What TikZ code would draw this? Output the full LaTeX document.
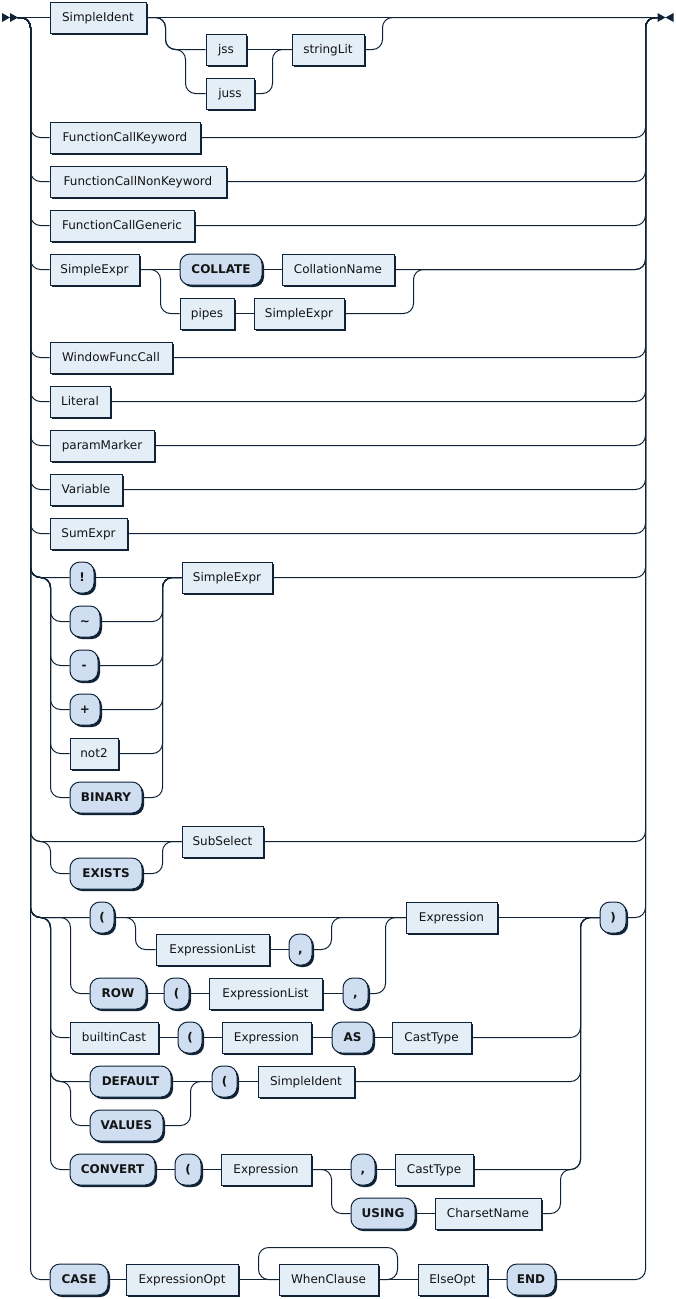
\documentclass[tikz,border=0pt]{standalone}
\usepackage{fontspec}
\setmainfont{DejaVu Sans}
\usetikzlibrary{shadows}
\definecolor{ink}{HTML}{0F2236}
\definecolor{ntfill}{HTML}{E4EEF7}
\definecolor{tmfill}{HTML}{CFDFF1}
\definecolor{shade}{HTML}{0F2236}
\definecolor{txt}{HTML}{141414}
\tikzset{
  rrbox/.style={draw=ink, line width=1pt, anchor=west, minimum height=31pt,
    inner sep=0pt, text=txt, text height=8.75pt, text depth=0pt,
    drop shadow={shadow xshift=2pt, shadow yshift=-2pt, opacity=1, fill=shade}},
  nt/.style={rrbox, rectangle, fill=ntfill, font=\fontsize{12pt}{14pt}\selectfont},
  tm/.style={rrbox, rectangle, rounded corners=10pt, fill=tmfill,
    font=\fontsize{12pt}{14pt}\selectfont\bfseries},
  rr/.style={draw=ink, line width=1pt, rounded corners=10pt},
}
\begin{document}
\begin{tikzpicture}[x=1pt,y=-1pt]
\fill[white] (0,0) rectangle (675,1299);
\useasboundingbox (0,0) rectangle (675,1299);
\begin{scope}[shift={(0.5,0.5)}]
% rails and end markers
\coordinate (entry) at (17,17);
\coordinate (exit) at (657,17);
\coordinate (railL) at (30,17);
\coordinate (railR) at (645,17);
\coordinate (inL) at (50,0);
\coordinate (inM) at (70,0);
\coordinate (mergeU) at (162,0);
\coordinate (mergeP) at (580,0);
\fill[ink] (1.5,12.5) -- (1.5,21.5) -- (9.5,17) -- cycle (9.5,12.5) -- (9.5,21.5) -- (17.5,17) -- cycle;
\fill[ink] (657,12.5) -- (657,21.5) -- (665,17) -- cycle (673,12.5) -- (673,21.5) -- (665,17) -- cycle;

% SimpleIdent [ (jss | juss) stringLit ]
\node[nt, minimum width=96pt] (si1) at (49,17) {SimpleIdent};
\node[nt, minimum width=40pt] (jss) at (205,49) {jss};
\node[nt, minimum width=48pt] (juss) at (205,93) {juss};
\node[nt, minimum width=72pt] (sl) at (291,49) {stringLit};
% single nonterminal rows
\node[nt, minimum width=150pt] (fck) at (49,137) {FunctionCallKeyword};
\node[nt, minimum width=176pt] (fcn) at (49,181) {FunctionCallNonKeyword};
\node[nt, minimum width=144pt] (fcg) at (49,225) {FunctionCallGeneric};
% SimpleExpr ( COLLATE CollationName | pipes SimpleExpr )
\node[nt, minimum width=89pt] (se1) at (49,269) {SimpleExpr};
\node[tm, minimum width=82pt] (col) at (179,269) {COLLATE};
\node[nt, minimum width=112pt] (cn) at (281,269) {CollationName};
\node[nt, minimum width=54pt] (pipes) at (179,313) {pipes};
\node[nt, minimum width=90pt] (se2) at (253,313) {SimpleExpr};
\node[nt, minimum width=122pt] (wfc) at (49,357) {WindowFuncCall};
\node[nt, minimum width=60pt] (lit) at (49,401) {Literal};
\node[nt, minimum width=104pt] (pm) at (49,445) {paramMarker};
\node[nt, minimum width=72pt] (var) at (49,489) {Variable};
\node[nt, minimum width=77pt] (sum) at (49,533) {SumExpr};
% unary operators
\node[tm, minimum width=24pt] (bang) at (69,577) {!};
\node[tm, minimum width=30pt] (tilde) at (69,621) {\textasciitilde};
\node[tm, minimum width=28pt] (minus) at (69,665) {-};
\node[tm, minimum width=30pt] (plus) at (69,709) {+};
\node[nt, minimum width=48pt] (not2) at (69,753) {not2};
\node[tm, minimum width=72pt] (binary) at (69,797) {BINARY};
\node[nt, minimum width=90pt] (se3) at (181,577) {SimpleExpr};
% [EXISTS] SubSelect
\node[nt, minimum width=81pt] (ss) at (181,841) {SubSelect};
\node[tm, minimum width=72pt] (exists) at (69,873) {EXISTS};
% parenthesised forms
\node[tm, minimum width=24pt] (lp1) at (89,917) {(};
\node[nt, minimum width=113pt] (el1) at (155,949) {ExpressionList};
\node[tm, minimum width=23pt] (cm1) at (288,949) {,};
\node[nt, minimum width=91pt] (expr1) at (405,917) {Expression};
\node[tm, minimum width=26pt] (rp) at (599,917) {)};
\node[tm, minimum width=56pt] (row) at (89,993) {ROW};
\node[tm, minimum width=25pt] (lp2) at (163,993) {(};
\node[nt, minimum width=113pt] (el2) at (208,993) {ExpressionList};
\node[tm, minimum width=25pt] (cm2) at (342,993) {,};
\node[nt, minimum width=88pt] (bc) at (69,1037) {builtinCast};
\node[tm, minimum width=24pt] (lp3) at (177,1037) {(};
\node[nt, minimum width=89pt] (expr2) at (221,1037) {Expression};
\node[tm, minimum width=41pt] (as) at (331,1037) {AS};
\node[nt, minimum width=79pt] (ct1) at (391,1037) {CastType};
\node[tm, minimum width=81pt] (default) at (89,1081) {DEFAULT};
\node[tm, minimum width=73pt] (values) at (89,1125) {VALUES};
\node[tm, minimum width=25pt] (lp4) at (211,1081) {(};
\node[nt, minimum width=96pt] (si2) at (257,1081) {SimpleIdent};
\node[tm, minimum width=85pt] (convert) at (69,1169) {CONVERT};
\node[tm, minimum width=26pt] (lp5) at (174,1169) {(};
\node[nt, minimum width=90pt] (expr3) at (220,1169) {Expression};
\node[tm, minimum width=24pt] (cm3) at (350,1169) {,};
\node[nt, minimum width=78pt] (ct2) at (394,1169) {CastType};
\node[tm, minimum width=64pt] (using) at (350,1213) {USING};
\node[nt, minimum width=106pt] (csn) at (434,1213) {CharsetName};
% CASE ... END
\node[tm, minimum width=58pt] (case) at (49,1279) {CASE};
\node[nt, minimum width=112pt] (eo) at (125,1279) {ExpressionOpt};
\node[nt, minimum width=99pt] (wc) at (278,1279) {WhenClause};
\node[nt, minimum width=69pt] (else) at (417,1279) {ElseOpt};
\node[tm, minimum width=48pt] (endk) at (506,1279) {END};

% ---- connectors ----
% entry and exit rails
\draw[rr] (entry) -- (si1.west);
\draw[rr] (si1.east) -- (exit);
\foreach \n in {fck,fcn,fcg,se1,wfc,lit,pm,var,sum,bang,ss,lp1,case}
  \draw[rr] (entry) -| (railL |- \n) -- (\n.west);
\foreach \n in {fck,fcn,fcg,cn,wfc,lit,pm,var,sum,se3,ss,rp,endk}
  \draw[rr] (\n.east) -| (railR) -- (exit);

% optional jss/juss stringLit
\draw[rr] (si1.east) -| (165,49) -- (jss.west);
\draw[rr] (si1.east) -| (165,49) -| (185,93) -- (juss.west);
\draw[rr] (jss.east) -- (sl.west);
\draw[rr] (juss.east) -| (272,49) -- (sl.west);
\draw[rr] (sl.east) -| (382,17) -- (exit);

% collate / pipes
\draw[rr] (se1.east) -- (col.west);
\draw[rr] (col.east) -- (cn.west);
\draw[rr] (se1.east) -| (160,313) -- (pipes.west);
\draw[rr] (pipes.east) -- (se2.west);
\draw[rr] (se2.east) -| (413,269) -| (railR) -- (exit);

% unary operators
\draw[rr] (bang.east) -- (se3.west);
\foreach \n in {tilde,minus,plus,not2,binary} {
  \draw[rr] (entry) -| (railL |- bang) -| (inL |- \n) -- (\n.west);
  \draw[rr] (\n.east) -| (mergeU |- bang) -- (se3.west);
}

% optional EXISTS
\draw[rr] (entry) -| (railL |- ss) -| (inL |- exists) -- (exists.west);
\draw[rr] (exists.east) -| (mergeU |- ss) -- (ss.west);

% ( [ExpressionList ,] | ROW ( ExpressionList , ) Expression
\draw[rr] (lp1.east) -- (expr1.west);
\draw[rr] (lp1.east) -| (135,949) -- (el1.west);
\draw[rr] (el1.east) -- (cm1.west);
\draw[rr] (cm1.east) -| (331,917) -- (expr1.west);
\draw[rr] (entry) -| (railL |- lp1) -| (inM |- row) -- (row.west);
\draw[rr] (row.east) -- (lp2.west);
\draw[rr] (lp2.east) -- (el2.west);
\draw[rr] (el2.east) -- (cm2.west);
\draw[rr] (cm2.east) -| (385,917) -- (expr1.west);
\draw[rr] (expr1.east) -- (rp.west);

% builtinCast ( Expression AS CastType
\draw[rr] (entry) -| (railL |- lp1) -| (inL |- bc) -- (bc.west);
\draw[rr] (bc.east) -- (lp3.west);
\draw[rr] (lp3.east) -- (expr2.west);
\draw[rr] (expr2.east) -- (as.west);
\draw[rr] (as.east) -- (ct1.west);
\draw[rr] (ct1.east) -| (mergeP |- rp) -- (rp.west);

% (DEFAULT | VALUES) ( SimpleIdent
\draw[rr] (entry) -| (railL |- lp1) -| (inL |- default) -- (default.west);
\draw[rr] (entry) -| (railL |- lp1) -| (inL |- default) -| (inM |- values) -- (values.west);
\draw[rr] (default.east) -- (lp4.west);
\draw[rr] (values.east) -| (190,1081) -- (lp4.west);
\draw[rr] (lp4.east) -- (si2.west);
\draw[rr] (si2.east) -| (mergeP |- rp) -- (rp.west);

% CONVERT ( Expression ( , CastType | USING CharsetName )
\draw[rr] (entry) -| (railL |- lp1) -| (inL |- convert) -- (convert.west);
\draw[rr] (convert.east) -- (lp5.west);
\draw[rr] (lp5.east) -- (expr3.west);
\draw[rr] (expr3.east) -- (cm3.west);
\draw[rr] (cm3.east) -- (ct2.west);
\draw[rr] (ct2.east) -| (mergeP |- rp) -- (rp.west);
\draw[rr] (expr3.east) -| (331,1213) -- (using.west);
\draw[rr] (using.east) -- (csn.west);
\draw[rr] (csn.east) -| (560,1169) -| (mergeP |- rp) -- (rp.west);

% CASE ExpressionOpt WhenClause+ ElseOpt END
\draw[rr] (case.east) -- (eo.west);
\draw[rr] (eo.east) -- (wc.west);
\draw[rr] (wc.east) -- (else.west);
\draw[rr] (wc.east) -| (397,1247) -| (258,1279) -- (wc.west);
\draw[rr] (else.east) -- (endk.west);
\end{scope}
\end{tikzpicture}
\end{document}
